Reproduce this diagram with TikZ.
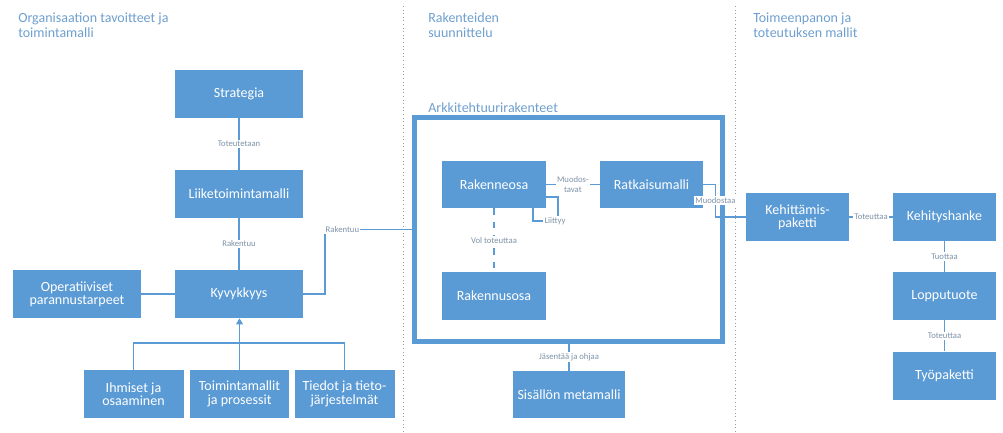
\documentclass[tikz,border=0pt]{standalone}
\usepackage{fontspec}
\setmainfont{Carlito}
\usetikzlibrary{arrows.meta}
\definecolor{boxblue}{HTML}{5B9BD5}
\definecolor{lineblue}{HTML}{5B9BD5}
\definecolor{headblue}{HTML}{6E9FCE}
\definecolor{lblgray}{HTML}{7F93A8}
\definecolor{dotgray}{HTML}{9A9A9A}
\begin{document}
\begin{tikzpicture}[x=0.75pt,y=-0.75pt,
  box/.style={fill=boxblue, text=white, align=center, inner sep=0pt,
    font=\fontsize{10.5}{10}\selectfont},
  wbox/.style={box, minimum width=96pt, minimum height=36pt},
  sbox/.style={box, minimum width=77.5pt, minimum height=36pt},
  conn/.style={draw=lineblue, line width=1pt},
  lbl/.style={fill=white, text=lblgray, inner sep=1pt,
    font=\fontsize{6.5}{7}\selectfont, align=center},
  head/.style={text=headblue, anchor=north west, align=left, inner sep=0pt,
    font=\fontsize{10.5}{11}\selectfont},
  sep/.style={draw=dotgray, dotted, line width=0.7pt}]
\useasboundingbox (0,0) rectangle (1003,432);

% separators
\draw[sep] (403,6) -- (403,432);
\draw[sep] (735,6) -- (735,432);

% headings
\node[head] (h1) at (18,13) {Organisaation tavoitteet ja\\toimintamalli};
\node[head] (h2) at (428,13) {Rakenteiden\\suunnittelu};
\node[head] (h3) at (753,13) {Toimeenpanon ja\\toteutuksen mallit};
\node[head] (h4) at (428,103) {Arkkitehtuurirakenteet};

% left column
\node[wbox] (str) at (239,94) {Strategia};
\node[wbox] (lii) at (239,194) {Liiketoimintamalli};
\node[wbox] (kyv) at (239,294) {Kyvykkyys};
\node[wbox] (ope) at (77,294) {Operatiiviset\\parannustarpeet};
\node[box, minimum width=75pt, minimum height=36pt] (ihm) at (133.5,394) {Ihmiset ja\\osaaminen};
\node[box, minimum width=74pt, minimum height=36pt] (toi) at (239.5,394) {Toimintamallit\\ja prosessit};
\node[box, minimum width=75pt, minimum height=36pt] (tie) at (344.5,394) {Tiedot ja tieto-\\järjestelmät};

% frame
\node[draw=boxblue, line width=3.75pt, minimum width=231pt, minimum height=168pt, inner sep=0pt] (frame) at (568.5,229.5) {};

% middle
\node[box, minimum width=78pt, minimum height=35.5pt] (rak) at (494,184.5) {Rakenneosa};
\node[box, minimum width=77.5pt, minimum height=35.5pt] (rat) at (651.5,184.5) {Ratkaisumalli};
\node[box, minimum width=78pt, minimum height=36pt] (rus) at (494,296) {Rakennusosa};
\node[box, minimum width=84pt, minimum height=35.5pt] (sis) at (569,394.5) {Sisällön metamalli};

% right
\node[sbox] (keh) at (797.5,217) {Kehittämis-\\paketti};
\node[sbox] (khk) at (944.5,217) {Kehityshanke};
\node[sbox] (lop) at (944.5,296) {Lopputuote};
\node[sbox] (tyo) at (944.5,375.5) {Työpaketti};

% connectors left
\draw[conn] (str) -- node[lbl] {Toteutetaan} (lii);
\draw[conn] (lii) -- node[lbl] {Rakentuu} (kyv);
\draw[conn] (ope) -- (kyv);
\draw[conn] (ihm.north) -- (ihm.north |- 0,343) -- (tie.north |- 0,343) -- (tie.north);
\draw[conn, -{Triangle[width=5pt,length=4.5pt]}] (toi.north) -- (toi.north |- kyv.south);
\draw[conn] (kyv.east) -- (325,294) |- node[lbl, pos=0.6] {Rakentuu} (frame.west);

% connectors middle
\draw[conn] (rak) -- node[lbl] {Muodos-\\tavat} (rat);
\draw[conn] (rak.east |- 0,197) -- (558,197) -- (558,221) -- (533,221) -- (533,0 |- rak.south);
\node[lbl] (liit) at (555,221) {Liittyy};
\draw[conn, dash pattern=on 5pt off 5pt] (rak) -- node[lbl] {Vol toteuttaa} (rus);
\draw[conn] (sis.north |- frame.south) -- node[lbl] {Jäsentää ja ohjaa} (sis.north);
\draw[conn] (rat.east) -- ++(12,0) |- node[lbl, pos=0.25] {Muodostaa} (keh.west);

% connectors right
\draw[conn] (keh) -- node[lbl] {Toteuttaa} (khk);
\draw[conn] (khk) -- node[lbl] {Tuottaa} (lop);
\draw[conn] (lop) -- node[lbl] {Toteuttaa} (tyo);
\end{tikzpicture}
\end{document}
